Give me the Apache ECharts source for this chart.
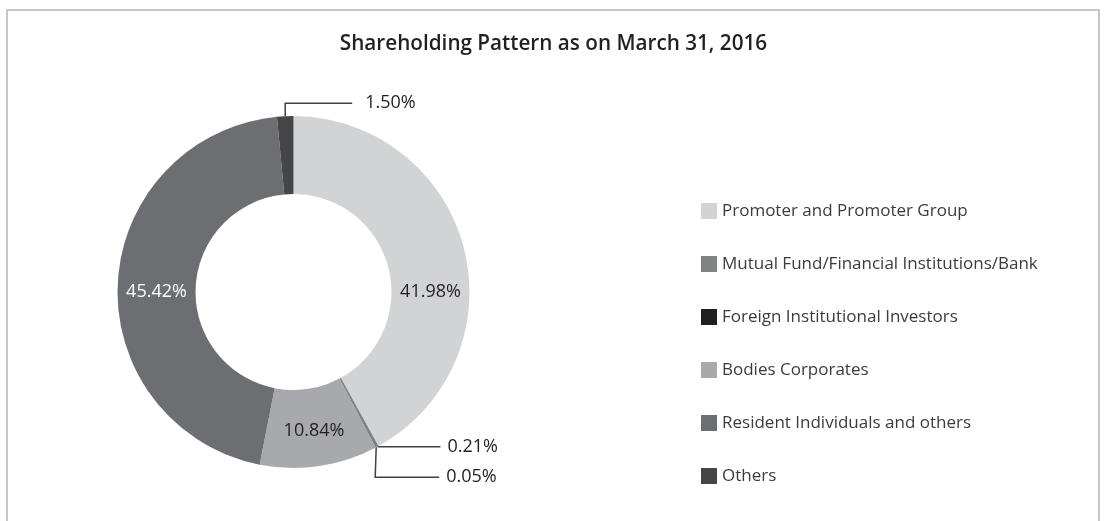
<!DOCTYPE html>
<html>
<head>
<meta charset="utf-8">
<script src="https://cdn.jsdelivr.net/npm/echarts@6/dist/echarts.min.js"></script>
<style>
  html, body { margin: 0; padding: 0; background: #ffffff; overflow: hidden; }
  #frame { position: absolute; left: 6px; top: 9px; width: 1094px; height: 540px;
           border: 2px solid #c6c6c8; border-bottom: none; box-sizing: border-box; }
  #chart { position: absolute; left: 0; top: 0; width: 1107px; height: 521px; }
</style>
</head>
<body>
<div id="frame"></div>
<div id="chart"></div>
<script>
// ---- data ----
const TITLE = 'Shareholding Pattern as on March 31, 2016';
const CATEGORIES = [
  'Promoter and Promoter Group',
  'Mutual Fund/Financial Institutions/Bank',
  'Foreign Institutional Investors',
  'Bodies Corporates',
  'Resident Individuals and others',
  'Others'
];
const VALUES = [41.98, 0.21, 0.05, 10.84, 45.42, 1.50];
const COLORS = ['#d1d3d4', '#808285', '#231f20', '#a7a9ac', '#6d6e71', '#464648'];

// ---- layout ----
const CX = 293.5, CY = 292, R_IN = 98, R_OUT = 176;
const R_MID = (R_IN + R_OUT) / 2;
const FONT = '"Open Sans", "Noto Sans", sans-serif';

const chart = echarts.init(document.getElementById('chart'), null, { renderer: 'canvas' });

const data = CATEGORIES.map((name, i) => {
  const small = VALUES[i] < 5;
  return {
    name: name,
    value: VALUES[i],
    itemStyle: { color: COLORS[i] },
    label: small
      ? { position: 'outside', color: '#231f20' }
      : { position: 'inside', color: i === 4 ? '#ffffff' : '#231f20' },
    labelLine: { show: small }
  };
});

chart.setOption({
  backgroundColor: 'transparent',
  animation: false,
  title: {
    text: TITLE,
    left: 'center',
    top: 29,
    textStyle: { fontFamily: FONT, fontSize: 20.7, fontWeight: 600, color: '#231f20' }
  },
  legend: {
    orient: 'vertical',
    left: 696,
    top: 197.5,
    itemWidth: 16,
    itemHeight: 16,
    itemGap: 36,
    icon: 'rect',
    selectedMode: false,
    data: CATEGORIES,
    textStyle: { fontFamily: FONT, fontSize: 17, color: '#3b3b3d' }
  },
  series: [{
    type: 'pie',
    center: [CX, CY],
    radius: [R_IN, R_OUT],
    startAngle: 90,
    clockwise: true,
    avoidLabelOverlap: false,
    label: {
      show: true,
      fontFamily: FONT,
      fontSize: 18,
      formatter: p => p.value.toFixed(2) + '%'
    },
    labelLine: {
      show: true,
      length: 10,
      length2: 20,
      lineStyle: { color: '#414042', width: 1.5 }
    },
    itemStyle: { borderWidth: 0 },
    emphasis: { disabled: true },
    labelLayout: function (p) {
      const i = p.dataIndex;
      if (i === 0) {
        return { x: CX + R_MID, y: CY, align: 'center', verticalAlign: 'middle' };
      }
      if (i === 4) {
        return { x: CX - R_MID, y: CY, align: 'center', verticalAlign: 'middle' };
      }
      const pts = p.labelLinePoints;
      if (!pts) return {};
      const s = pts[0];
      if (i === 5) {
        const ey = s[1] - 13, ex = s[0] + 67;
        return { x: ex + 13, y: ey, align: 'left', verticalAlign: 'middle',
                 labelLinePoints: [s, [s[0], ey], [ex, ey]] };
      }
      if (i === 1) {
        const ex = s[0] + 63;
        return { x: ex + 7, y: s[1], align: 'left', verticalAlign: 'middle',
                 labelLinePoints: [s, [ex, s[1]], [ex, s[1]]] };
      }
      if (i === 2) {
        const ey = s[1] + 30, vx = s[0] - 1, ex = s[0] + 63;
        return { x: ex + 7, y: ey, align: 'left', verticalAlign: 'middle',
                 labelLinePoints: [s, [vx, ey], [ex, ey]] };
      }
      return {};
    },
    data: data
  }]
});
</script>
</body>
</html>
